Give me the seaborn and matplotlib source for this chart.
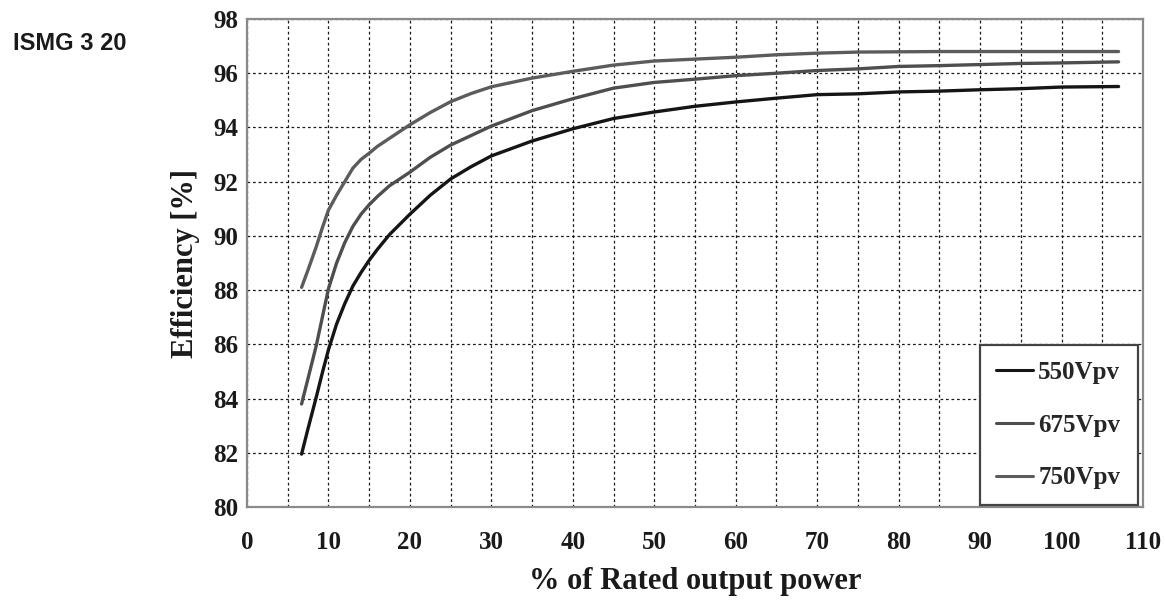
import numpy as np
import pandas as pd
import seaborn as sns
import matplotlib
matplotlib.use("Agg")
import matplotlib.pyplot as plt
from matplotlib.ticker import MultipleLocator

# ---- data ----
power = [6.7, 7.5, 8.5, 9.25, 10, 11, 12, 13, 14, 15, 16, 17.5, 20, 22.5, 25,
         27.5, 30, 35, 40, 45, 50, 55, 60, 65, 70, 75, 80, 85, 90, 95, 100, 107]
eff_550 = [81.95, 82.9, 84.05, 84.95, 85.8, 86.75, 87.5, 88.15, 88.65, 89.1,
           89.5, 90.05, 90.8, 91.5, 92.1, 92.55, 92.95, 93.5, 93.95, 94.33,
           94.57, 94.78, 94.94, 95.08, 95.21, 95.24, 95.31, 95.34, 95.39,
           95.43, 95.49, 95.51]
eff_675 = [83.8, 84.75, 85.95, 87.0, 88.05, 89.0, 89.75, 90.35, 90.8, 91.15,
           91.45, 91.85, 92.35, 92.9, 93.35, 93.7, 94.05, 94.62, 95.06, 95.45,
           95.66, 95.78, 95.91, 96.0, 96.1, 96.16, 96.25, 96.28, 96.32, 96.36,
           96.38, 96.42]
eff_750 = [88.1, 88.75, 89.6, 90.3, 90.95, 91.5, 92.0, 92.5, 92.82, 93.05,
           93.3, 93.6, 94.1, 94.55, 94.95, 95.25, 95.5, 95.82, 96.07, 96.3,
           96.45, 96.52, 96.59, 96.68, 96.74, 96.78, 96.79, 96.8, 96.8, 96.8,
           96.8, 96.8]
series_names = ["550Vpv", "675Vpv", "750Vpv"]
x_ticks = list(range(0, 111, 10))
y_ticks = list(range(80, 99, 2))

df = pd.concat([
    pd.DataFrame({"power": power, "eff": vals, "series": name})
    for name, vals in zip(series_names, [eff_550, eff_675, eff_750])
], ignore_index=True)

sns.set_style("white")
serif = "Liberation Serif"

fig = plt.figure(figsize=(11.65, 6.03), dpi=100)
ax = fig.add_axes([247 / 1165, 1 - 507 / 603, 896 / 1165, 488 / 603])

palette = {"550Vpv": "#151515", "675Vpv": "#4e4e4e", "750Vpv": "#5c5c5c"}
sns.lineplot(data=df, x="power", y="eff", hue="series", palette=palette,
             estimator=None, sort=True, linewidth=2.4, ax=ax)

ax.set_xlim(0, 110)
ax.set_ylim(80, 98)
ax.set_xticks(x_ticks)
ax.set_yticks(y_ticks)
ax.xaxis.set_minor_locator(MultipleLocator(5))

ax.set_axisbelow(True)
grid_kw = dict(color="#1a1a1a", linestyle=(0, (2.2, 2.2)), linewidth=0.9)
ax.grid(True, which="both", axis="x", **grid_kw)
ax.grid(True, which="major", axis="y", **grid_kw)

for s in ax.spines.values():
    s.set_visible(True)
    s.set_color("#8a8a8a")
    s.set_linewidth(1.6)

ax.tick_params(axis="x", which="major", direction="in", length=5, width=1.2,
               color="#777777", pad=17)
ax.tick_params(axis="x", which="minor", length=0)
ax.tick_params(axis="y", which="major", length=0, pad=6)
for lab in ax.get_xticklabels() + ax.get_yticklabels():
    lab.set_fontfamily(serif)
    lab.set_fontweight("bold")
    lab.set_fontsize(18)
    lab.set_color("#1a1a1a")

ax.set_xlabel("% of Rated output power", fontfamily=serif, fontweight="bold",
              fontsize=22, color="#1a1a1a", labelpad=10)
ax.set_ylabel("Efficiency [%]", fontfamily=serif, fontweight="bold",
              fontsize=22, color="#1a1a1a", labelpad=10)

handles, labels = ax.get_legend_handles_labels()
leg = ax.legend(handles, labels, loc="lower left",
                bbox_to_anchor=(90 / 110, 0.004, 0.176, 0.333), mode="expand",
                prop={"family": serif, "weight": "bold", "size": 18},
                frameon=True, fancybox=False, framealpha=1, edgecolor="#444444",
                handlelength=1.5, handletextpad=0.2, labelspacing=1.19,
                borderpad=0.63, borderaxespad=0.0)
leg.get_frame().set_linewidth(1.6)
for line in leg.get_lines():
    line.set_linewidth(2.2)

fig.text(13 / 1165, 1 - 43 / 603, "ISMG 3 20", fontfamily="Liberation Sans",
         fontweight="bold", fontsize=17, color="#1a1a1a", va="center", ha="left")

fig.savefig("out.png", dpi=100, facecolor="white")
